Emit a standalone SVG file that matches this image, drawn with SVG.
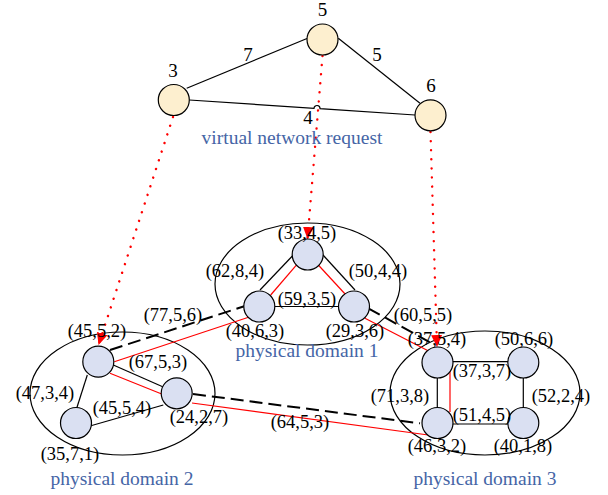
<svg xmlns="http://www.w3.org/2000/svg" width="608" height="495" viewBox="0 0 608 495">
<style>
  .vn { fill: #fdefcf; stroke: #000; stroke-width: 1.2; }
  .pn { fill: #dae0f2; stroke: #000; stroke-width: 1.2; }
  .dom { fill: none; stroke: #000; stroke-width: 1.2; }
  .bl { fill: none; stroke: #000; stroke-width: 1.2; }
  .rd { fill: none; stroke: #ff0000; stroke-width: 1.2; }
  .dash { fill: none; stroke: #000; stroke-width: 2; stroke-dasharray: 13 6; }
  .map { fill: none; stroke: #ff0000; stroke-width: 2.4; stroke-dasharray: 0.1 9; stroke-linecap: round; }
  text { font-family: "Liberation Serif", "Times New Roman", serif; fill: #000; }
  .lbl { font-size: 18.5px; text-anchor: middle; }
  .vl { font-size: 19px; text-anchor: middle; }
  .blue { font-size: 19.5px; fill: #4565a6; text-anchor: middle; }
</style>
<defs>
  <marker id="arr" markerUnits="userSpaceOnUse" markerWidth="12" markerHeight="12" viewBox="0 0 12 12" refX="12" refY="6" orient="auto">
    <path d="M0,0.5 L12,6 L0,11.5 z" fill="#ff0000"/>
  </marker>
</defs>

<!-- domain ellipses -->
<g id="domain1"><ellipse class="dom" cx="307.5" cy="284" rx="92.5" ry="61"/></g>
<g id="domain2"><ellipse class="dom" cx="122.5" cy="393.5" rx="92.5" ry="61.5"/></g>
<g id="domain3"><ellipse class="dom" cx="485" cy="393" rx="95" ry="62"/></g>

<g id="connectors">
  <!-- virtual request edges -->
  <path class="bl" d="M186.7,88.3 L307,38.5"/>
  <path class="bl" d="M338.3,38.3 L420,103.3"/>
  <path class="bl" d="M189.3,100 L314,108.3 A3,3 0 0 1 320,108.7 L415,115"/>
  <!-- domain 1 internal -->
  <path class="bl" d="M293.3,255 L260,290"/>
  <path class="rd" d="M297,264.3 L270.7,295"/>
  <path class="bl" d="M323,255 L355,290"/>
  <path class="rd" d="M318.3,265 L346,295"/>
  <path class="bl" d="M275,306.5 L339,306.5"/>
  <!-- domain 2 internal -->
  <path class="bl" d="M113.3,365 L162.7,386.7"/>
  <path class="rd" d="M110,373.3 L161.7,394"/>
  <path class="bl" d="M90,426 L163.3,405"/>
  <path class="bl" d="M87.3,375 L76.7,408.3"/>
  <!-- domain 3 internal -->
  <path class="bl" d="M452,361.7 L508,361.7"/>
  <path class="bl" d="M523.3,378 L523.3,408"/>
  <path class="bl" d="M452,424 L508,424"/>
  <path class="bl" d="M437.3,378 L437.3,407"/>
  <path class="rd" d="M450,370 L450,412"/>
  <!-- inter-domain links -->
  <path class="dash" d="M110,350 L245,306"/>
  <path class="rd" d="M114.3,361.7 L250,316.7"/>
  <path class="dash" d="M368.3,308.3 L431.7,343.3"/>
  <path class="rd" d="M365,318.3 L430,351.7"/>
  <path class="dash" d="M193,394 L420,423.3"/>
  <path class="rd" d="M192,403 L428.3,435"/>
  <!-- mapping arrows -->
  <path class="map" d="M173,117 L98.5,345" marker-end="url(#arr)"/>
  <path class="map" d="M322.5,56 L307.5,239" marker-end="url(#arr)"/>
  <path class="map" d="M430.5,132 L437,347" marker-end="url(#arr)"/>
</g>

<!-- virtual nodes -->
<g id="v3"><circle class="vn" cx="173.8" cy="100" r="15.5"/><text class="vl" x="173" y="77">3</text></g>
<g id="v5"><circle class="vn" cx="322.5" cy="39.5" r="15.5"/><text class="vl" x="322.5" y="16">5</text></g>
<g id="v6"><circle class="vn" cx="430.5" cy="115.3" r="15.5"/><text class="vl" x="431" y="92">6</text></g>
<g id="vlabels">
  <text class="vl" x="248" y="61">7</text>
  <text class="vl" x="377" y="61">5</text>
  <text class="vl" x="308" y="124">4</text>
  <text class="blue" x="292" y="144">virtual network request</text>
</g>

<!-- domain 1 nodes -->
<g id="d1top"><circle class="pn" cx="307.7" cy="254.5" r="15.5"/></g>
<g id="d1left"><circle class="pn" cx="259.3" cy="306.5" r="15.5"/></g>
<g id="d1right"><circle class="pn" cx="354" cy="306.5" r="15.5"/></g>
<!-- domain 2 nodes -->
<g id="d2a"><circle class="pn" cx="98.3" cy="361.7" r="15.5"/></g>
<g id="d2b"><circle class="pn" cx="176.7" cy="393.3" r="15.5"/></g>
<g id="d2c"><circle class="pn" cx="76" cy="423" r="15.5"/></g>
<!-- domain 3 nodes -->
<g id="d3tl"><circle class="pn" cx="437.5" cy="362.5" r="15.5"/></g>
<g id="d3tr"><circle class="pn" cx="523.3" cy="362.5" r="15.5"/></g>
<g id="d3bl"><circle class="pn" cx="437.5" cy="423" r="15.5"/></g>
<g id="d3br"><circle class="pn" cx="523.3" cy="423" r="15.5"/></g>

<g id="labels">
  <text class="lbl" x="307" y="239">(33,4,5)</text>
  <text class="lbl" x="235" y="277">(62,8,4)</text>
  <text class="lbl" x="378" y="277">(50,4,4)</text>
  <text class="lbl" x="307" y="305">(59,3,5)</text>
  <text class="lbl" x="255" y="337">(40,6,3)</text>
  <text class="lbl" x="355" y="337">(29,3,6)</text>
  <text class="blue" x="307" y="357">physical domain 1</text>

  <text class="lbl" x="173" y="321">(77,5,6)</text>
  <text class="lbl" x="97" y="337">(45,5,2)</text>
  <text class="lbl" x="158" y="368">(67,5,3)</text>
  <text class="lbl" x="45" y="399">(47,3,4)</text>
  <text class="lbl" x="122" y="414">(45,5,4)</text>
  <text class="lbl" x="199" y="423">(24,2,7)</text>
  <text class="lbl" x="70" y="460">(35,7,1)</text>
  <text class="blue" x="122" y="485">physical domain 2</text>

  <text class="lbl" x="300" y="428">(64,5,3)</text>
  <text class="lbl" x="423" y="321">(60,5,5)</text>
  <text class="lbl" x="437" y="345">(37,5,4)</text>
  <text class="lbl" x="524" y="345">(50,6,6)</text>
  <text class="lbl" x="482" y="377">(37,3,7)</text>
  <text class="lbl" x="400" y="402">(71,3,8)</text>
  <text class="lbl" x="561" y="402">(52,2,4)</text>
  <text class="lbl" x="482" y="421">(51,4,5)</text>
  <text class="lbl" x="437" y="452">(46,3,2)</text>
  <text class="lbl" x="523" y="452">(40,1,8)</text>
  <text class="blue" x="485" y="485">physical domain 3</text>
</g>
</svg>
